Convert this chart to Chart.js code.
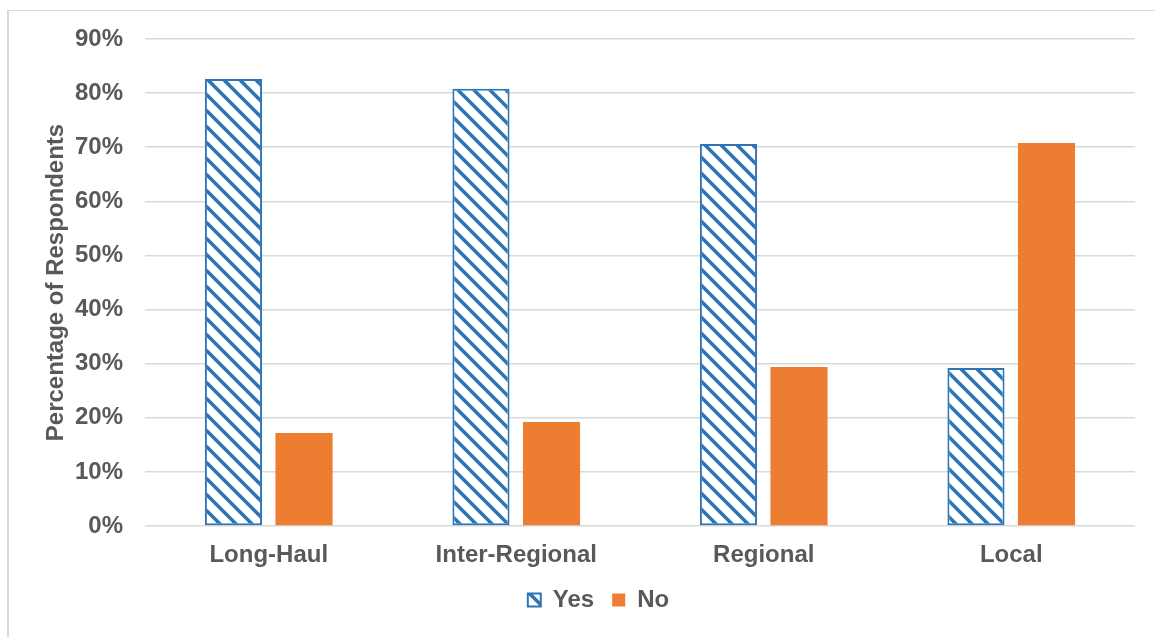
<!DOCTYPE html>
<html>
<head>
<meta charset="utf-8">
<script src="https://cdn.jsdelivr.net/npm/chart.js@4.4.1/dist/chart.umd.min.js"></script>
<style>
  html, body { margin: 0; padding: 0; background: #fff; overflow: hidden; }
  #kader { position: absolute; left: 7px; top: 10px; width: 1200px; height: 700px;
           border-top: 1px solid #d9d9d9; border-left: 2px solid #d9d9d9; }
  #wrap { position: absolute; left: 0; top: 0; width: 1155px; height: 637px; }
</style>
</head>
<body>
<div id="kader"></div>
<div id="wrap"><canvas id="grafiek"></canvas></div>
<script>
// Gegevens per type rit
const categorieen = ["Long-Haul", "Inter-Regional", "Regional", "Local"];
const jaWaarden = [82.6, 80.8, 70.6, 29.2];
const neeWaarden = [17.2, 19.2, 29.4, 70.8];
const asMin = 0;
const asMax = 90;
const asStap = 10;

const blauw = "#2E75B6";
const oranje = "#ED7D31";
const tekstKleur = "#595959";
const rasterKleur = "#d9d9d9";
const lettertype = { family: "'Liberation Sans', Arial, sans-serif", size: 24, weight: "bold" };

// Schuine streepjes voor de "Yes"-balken
function maakStreepjes() {
  const c = document.createElement("canvas");
  c.width = 16;
  c.height = 16;
  const g = c.getContext("2d");
  g.fillStyle = "#fff";
  g.fillRect(0, 0, 16, 16);
  g.strokeStyle = blauw;
  g.lineWidth = 3.6;
  [-16, 0, 16].forEach(o => {
    g.beginPath();
    g.moveTo(o - 2, -2);
    g.lineTo(o + 18, 18);
    g.stroke();
  });
  return g.createPattern(c, "repeat");
}

// Legenda iets naar rechts schuiven
const legendaVerschuiving = {
  id: "legendaVerschuiving",
  afterLayout(chart) {
    chart.legend.left += 31;
    chart.legend.right += 31;
  }
};

const ctx = document.getElementById("grafiek").getContext("2d");

new Chart(ctx, {
  type: "bar",
  data: {
    labels: categorieen,
    datasets: [
      {
        label: "Yes",
        data: jaWaarden,
        backgroundColor: maakStreepjes(),
        borderColor: blauw,
        borderWidth: 2,
        borderSkipped: false
      },
      {
        label: "No",
        data: neeWaarden,
        backgroundColor: oranje,
        borderWidth: 0
      }
    ]
  },
  plugins: [legendaVerschuiving],
  options: {
    responsive: true,
    maintainAspectRatio: false,
    animation: false,
    layout: { padding: { left: 0, right: 20, top: 39, bottom: 15 } },
    datasets: { bar: { categoryPercentage: 0.57, barPercentage: 0.81 } },
    plugins: {
      tooltip: { enabled: false },
      legend: {
        position: "bottom",
        labels: {
          boxWidth: 13,
          boxHeight: 13,
          color: tekstKleur,
          font: lettertype,
          padding: 18
        }
      }
    },
    scales: {
      x: {
        grid: { display: false, drawTicks: false },
        border: { display: false },
        ticks: { color: tekstKleur, font: lettertype, padding: 15, maxRotation: 0 },
        afterFit: schaal => { schaal.height = 44; }
      },
      y: {
        min: asMin,
        max: asMax,
        grid: { color: rasterKleur, lineWidth: 1.5, drawTicks: false },
        border: { display: false },
        ticks: {
          stepSize: asStap,
          color: tekstKleur,
          font: lettertype,
          padding: 22,
          callback: v => v + "%"
        },
        title: {
          display: true,
          text: "Percentage of Respondents",
          color: tekstKleur,
          font: lettertype,
          padding: { top: 42, bottom: 0 }
        },
        afterFit: schaal => { schaal.width = 145; }
      }
    }
  }
});
</script>
</body>
</html>
